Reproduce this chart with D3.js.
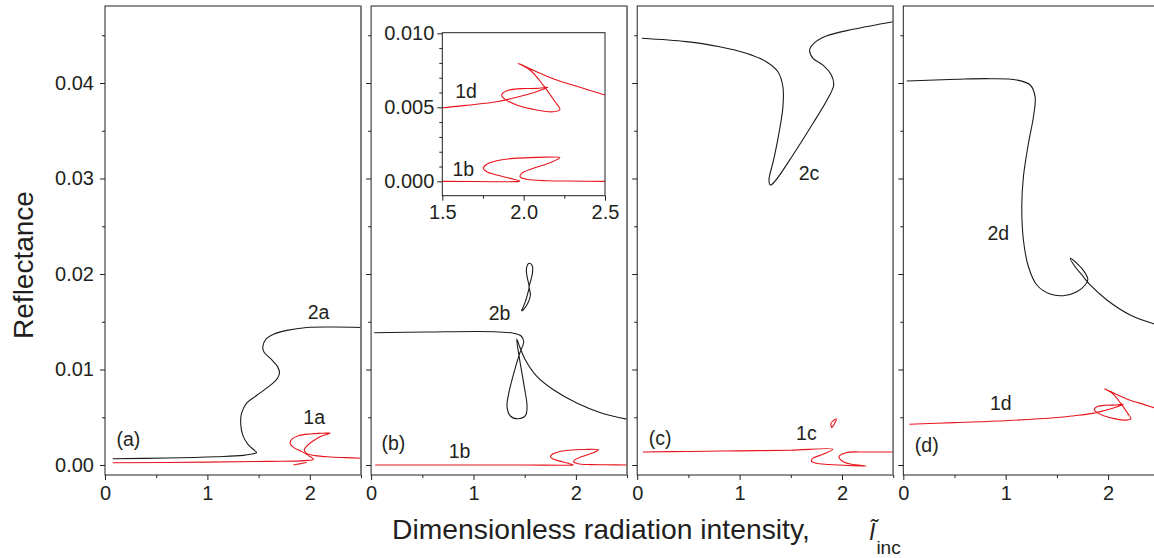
<!DOCTYPE html>
<html><head><meta charset="utf-8">
<script src="https://cdn.jsdelivr.net/npm/d3@7"></script>
<style>
body{margin:0;background:#fff}
svg{display:block}
text{font-family:"Liberation Sans",Arial,Helvetica,sans-serif;fill:#231f20}
</style>
</head><body>
<svg id="chart" width="1154" height="558"></svg>
<script>
// ---------- data ----------
const panelNames = ["a","b","c","d"];
const xTicks = [0,1,2];
const xMinorTicks = [0.5,1.5,2.5];
const yTicks = [0,0.01,0.02,0.03,0.04];
const yTickLabels = ["0.00","0.01","0.02","0.03","0.04"];
const yMinorTicks = [0.005,0.015,0.025,0.035,0.045];
const insetXTicks = [1.5,2.0,2.5];
const insetXTickLabels = ["1.5","2.0","2.5"];
const insetXMinorTicks = [1.75,2.25];
const insetYTicks = [0,0.005,0.010];
const insetYTickLabels = ["0.000","0.005","0.010"];
const insetYMinorTicks = [0.001,0.002,0.003,0.004,0.006,0.007,0.008,0.009];

const curve2a = [[0.075,0.00066],[0.6,0.00073],[1.09,0.00087],[1.35,0.00101],[1.466,0.00122],[1.48,0.0013],[1.40,0.0021],[1.346,0.0031],[1.326,0.0042],[1.333,0.0054],[1.385,0.0065],[1.483,0.0073],[1.597,0.0082],[1.678,0.0090],[1.704,0.0096],[1.685,0.0103],[1.62,0.0111],[1.554,0.0118],[1.541,0.0124],[1.574,0.0132],[1.645,0.0137],[1.776,0.0141],[1.971,0.0144],[2.23,0.01445],[2.5,0.0144]];
const curve1a = [[0.075,0.00024],[1.0,0.0003],[1.6,0.00038],[1.95,0.00046],[2.036,0.0006],[1.988,0.00098],[1.923,0.0014],[1.841,0.00185],[1.808,0.00227],[1.825,0.00272],[1.89,0.00307],[2.004,0.00325],[2.118,0.00332],[2.2,0.00335],[2.10,0.00297],[2.02,0.00244],[1.965,0.00192],[1.945,0.00157],[1.97,0.00122],[2.053,0.00098],[2.2,0.00084],[2.36,0.00077],[2.5,0.0007]];
const curve1aBranch = [[1.84,0.0],[1.9,0.00012],[1.97,0.00026]];
const curve2b = [[0.03,0.01385],[0.55,0.01393],[1.2,0.01396],[1.39,0.01379],[1.465,0.01351],[1.49,0.01291],[1.451,0.01169],[1.393,0.0096],[1.344,0.00751],[1.327,0.0061],[1.36,0.00513],[1.432,0.00485],[1.507,0.00517],[1.523,0.0061],[1.49,0.00855],[1.451,0.011],[1.422,0.0132],[1.451,0.01239],[1.507,0.011],[1.621,0.00925],[1.784,0.00785],[2.013,0.00646],[2.241,0.00548],[2.5,0.0048]];
const curve2bIsland = [[1.468,0.01613],[1.5,0.01693],[1.53,0.01798],[1.543,0.01867],[1.523,0.01972],[1.517,0.0206],[1.543,0.02112],[1.575,0.02084],[1.575,0.02007],[1.556,0.01919],[1.543,0.01867],[1.556,0.0178],[1.53,0.01693],[1.484,0.01623],[1.468,0.01613]];
const curve1b = [[0.04,0.0],[1.0,0.0],[1.5,0.0],[1.971,0.0],[1.975,0.00002],[1.916,0.0002],[1.834,0.00043],[1.773,0.00065],[1.752,0.00088],[1.773,0.00115],[1.834,0.00139],[1.936,0.00155],[2.08,0.00162],[2.223,0.0016],[2.162,0.00126],[2.06,0.00088],[1.988,0.00054],[1.978,0.00031],[2.019,0.00014],[2.142,0.00004],[2.285,0.00002],[2.5,0.0]];
const curve2c = [[0.045,0.04468],[0.479,0.04433],[0.805,0.0438],[1.065,0.04311],[1.26,0.04223],[1.374,0.04118],[1.423,0.03961],[1.423,0.0375],[1.384,0.03473],[1.332,0.03194],[1.287,0.02984],[1.30,0.02932],[1.342,0.02967],[1.521,0.03246],[1.717,0.03578],[1.863,0.0384],[1.919,0.03979],[1.896,0.04084],[1.814,0.04188],[1.717,0.04258],[1.684,0.04346],[1.733,0.04422],[1.847,0.04492],[2.107,0.04562],[2.5,0.04642]];
const curve1c = [[0.055,0.00136],[0.5,0.00142],[1.0,0.00148],[1.5,0.00155],[1.91,0.00164],[1.813,0.00112],[1.715,0.0007],[1.70,0.00042],[1.75,0.00018],[1.98,0.0],[2.235,-0.0001],[2.08,0.0001],[2.0,0.00042],[1.97,0.00087],[2.04,0.00129],[2.24,0.00136],[2.5,0.00136]];
const curve1cIsland = [[1.90,0.0039],[1.89,0.0043],[1.91,0.0046],[1.945,0.0048],[1.93,0.0044],[1.90,0.0039]];
const curve2d = [[0.033,0.04021],[0.522,0.04039],[0.848,0.04045],[1.108,0.04031],[1.239,0.03979],[1.287,0.03857],[1.271,0.03647],[1.222,0.03368],[1.173,0.03019],[1.157,0.02705],[1.173,0.02356],[1.222,0.02076],[1.304,0.01885],[1.434,0.0179],[1.564,0.01773],[1.695,0.01815],[1.776,0.01885],[1.802,0.01944],[1.76,0.02035],[1.695,0.02112],[1.63,0.02164],[1.678,0.02076],[1.744,0.0199],[1.825,0.01885],[1.988,0.01728],[2.216,0.01571],[2.451,0.01476],[2.5,0.0146]];
const curve1d = [[0.06,0.00426],[0.5,0.00444],[1.0,0.00464],[1.5,0.00497],[1.67,0.00516],[1.834,0.00538],[1.957,0.00568],[2.06,0.00599],[2.12,0.00622],[2.148,0.00635],[2.08,0.00628],[1.977,0.00626],[1.896,0.00612],[1.865,0.00583],[1.886,0.00554],[1.957,0.00516],[2.06,0.00486],[2.182,0.0047],[2.223,0.00486],[2.193,0.00538],[2.12,0.0065],[2.039,0.00752],[1.967,0.00797],[2.08,0.0074],[2.203,0.00684],[2.346,0.00635],[2.5,0.00583]];

const panelCurves = [
  [{d:curve2a,c:"black"},{d:curve1a,c:"red"},{d:curve1aBranch,c:"red"}],
  [{d:curve2b,c:"black"},{d:curve2bIsland,c:"black"},{d:curve1b,c:"red"}],
  [{d:curve2c,c:"black"},{d:curve1c,c:"red"},{d:curve1cIsland,c:"red"}],
  [{d:curve2d,c:"black"},{d:curve1d,c:"red"}]
];
const panelLabels = [
  [["(a)",0.228,0.00269],["2a",2.085,0.01605],["1a",2.043,0.00506]],
  [["(b)",0.218,0.00227],["1b",0.864,0.00149],["2b",1.255,0.01588]],
  [["(c)",0.225,0.00279],["1c",1.652,0.00338],["2c",1.678,0.03054]],
  [["(d)",0.229,0.00209],["1d",0.952,0.00646],["2d",0.928,0.02426]]
];
const insetCurves = [curve1d, curve1b];
const insetLabels = [["1d",1.646,0.00612],["1b",1.629,0.00081]];

// ---------- layout ----------
const COLORS = {black:"#1a1a1a", red:"#e8141c"};
const plotTop = 6, plotBottom = 475, pw = 256;
const lefts = panelNames.map((_, i) => 105 + i*266.1);
const svg = d3.select("#chart");
const defs = svg.append("defs");
const y = d3.scaleLinear().domain([-0.001047, 0.048063]).range([plotBottom, plotTop]);
const FS = 20;

function styleAxis(g, fs){
  g.select(".domain").remove();
  g.selectAll("line").attr("stroke","#231f20").attr("stroke-width",1);
  g.selectAll("text").attr("font-size",fs).attr("fill","#231f20")
    .attr("font-family","'Liberation Sans',Arial,Helvetica,sans-serif");
}

lefts.forEach((L, i) => {
  const x = d3.scaleLinear().domain([0,2.5]).range([L, L+pw]);
  const g = svg.append("g");
  defs.append("clipPath").attr("id","clip"+i).append("rect")
    .attr("x",L).attr("y",plotTop).attr("width",pw).attr("height",plotBottom-plotTop);
  const line = d3.line().x(d=>x(d[0])).y(d=>y(d[1])).curve(d3.curveCatmullRom.alpha(0.5));
  const cg = g.append("g").attr("clip-path","url(#clip"+i+")");
  panelCurves[i].forEach(cv => {
    cg.append("path").attr("d", line(cv.d)).attr("fill","none")
      .attr("stroke", COLORS[cv.c]).attr("stroke-width", 1.1);
  });
  panelLabels[i].forEach(l => {
    g.append("text").attr("x", x(l[1])).attr("y", y(l[2])).attr("dy","0.35em")
      .attr("text-anchor","middle").attr("font-size",19.5).text(l[0]);
  });
  const ax = g.append("g").attr("transform",`translate(0,${plotBottom})`)
    .call(d3.axisBottom(x).tickValues(xTicks).tickFormat(d3.format("d")).tickSize(5).tickPadding(6));
  styleAxis(ax, FS);
  const axm = g.append("g").attr("transform",`translate(0,${plotBottom})`)
    .call(d3.axisBottom(x).tickValues(xMinorTicks).tickFormat("").tickSize(3));
  styleAxis(axm, FS);
  const ay = g.append("g").attr("transform",`translate(${L},0)`)
    .call(d3.axisLeft(y).tickValues(yTicks).tickFormat((d,k)=> i===0 ? yTickLabels[k] : "").tickSize(5).tickPadding(6));
  styleAxis(ay, FS);
  const aym = g.append("g").attr("transform",`translate(${L},0)`)
    .call(d3.axisLeft(y).tickValues(yMinorTicks).tickFormat("").tickSize(3));
  styleAxis(aym, FS);
  g.append("rect").attr("x",L).attr("y",plotTop).attr("width",pw).attr("height",plotBottom-plotTop)
    .attr("fill","none").attr("stroke","#231f20").attr("stroke-width",1);
  g.append("line").attr("x1",L+pw).attr("x2",L+pw).attr("y1",plotTop).attr("y2",plotBottom)
    .attr("stroke","#7a7a7a").attr("stroke-width",1.6);

  if (i === 1) {
    const iL = 442.3, iR = 605, iT = 32.7, iB = 195.7;
    const xi = d3.scaleLinear().domain([1.5,2.5]).range([iL,iR]);
    const yi = d3.scaleLinear().domain([-0.00097,0.01004]).range([iB,iT]);
    const ig = svg.append("g");
    ig.append("rect").attr("x",iL).attr("y",iT).attr("width",iR-iL).attr("height",iB-iT).attr("fill","#fff");
    defs.append("clipPath").attr("id","clipInset").append("rect")
      .attr("x",iL).attr("y",iT).attr("width",iR-iL).attr("height",iB-iT);
    const li = d3.line().x(d=>xi(d[0])).y(d=>yi(d[1])).curve(d3.curveCatmullRom.alpha(0.5));
    const icg = ig.append("g").attr("clip-path","url(#clipInset)");
    insetCurves.forEach(c => icg.append("path").attr("d", li(c)).attr("fill","none")
      .attr("stroke", COLORS.red).attr("stroke-width",1.1));
    insetLabels.forEach(l => ig.append("text").attr("x",xi(l[1])).attr("y",yi(l[2])).attr("dy","0.35em")
      .attr("text-anchor","middle").attr("font-size",19.5).text(l[0]));
    const ixa = ig.append("g").attr("transform",`translate(0,${iB})`)
      .call(d3.axisBottom(xi).tickValues(insetXTicks).tickFormat((d,k)=>insetXTickLabels[k]).tickSize(5).tickPadding(4));
    styleAxis(ixa, FS);
    const ixm = ig.append("g").attr("transform",`translate(0,${iB})`)
      .call(d3.axisBottom(xi).tickValues(insetXMinorTicks).tickFormat("").tickSize(3));
    styleAxis(ixm, FS);
    const iya = ig.append("g").attr("transform",`translate(${iL},0)`)
      .call(d3.axisLeft(yi).tickValues(insetYTicks).tickFormat((d,k)=>insetYTickLabels[k]).tickSize(5).tickPadding(3));
    styleAxis(iya, FS);
    const iym = ig.append("g").attr("transform",`translate(${iL},0)`)
      .call(d3.axisLeft(yi).tickValues(insetYMinorTicks).tickFormat("").tickSize(3));
    styleAxis(iym, FS);
    ig.append("rect").attr("x",iL).attr("y",iT).attr("width",iR-iL).attr("height",iB-iT)
      .attr("fill","none").attr("stroke","#231f20").attr("stroke-width",1);
  }
});

svg.append("text").attr("transform","translate(33,265) rotate(-90)")
  .attr("text-anchor","middle").attr("font-size",28).text("Reflectance");
svg.append("text").attr("x",392).attr("y",539).attr("font-size",28.3)
  .text("Dimensionless radiation intensity,");
const sym = svg.append("text").attr("x",869).attr("y",539.5);
sym.append("tspan").attr("font-size",23).attr("font-style","italic").text("\u0128");
sym.append("tspan").attr("font-size",19).attr("dx",1).attr("dy",14).text("inc");
</script>
</body></html>
